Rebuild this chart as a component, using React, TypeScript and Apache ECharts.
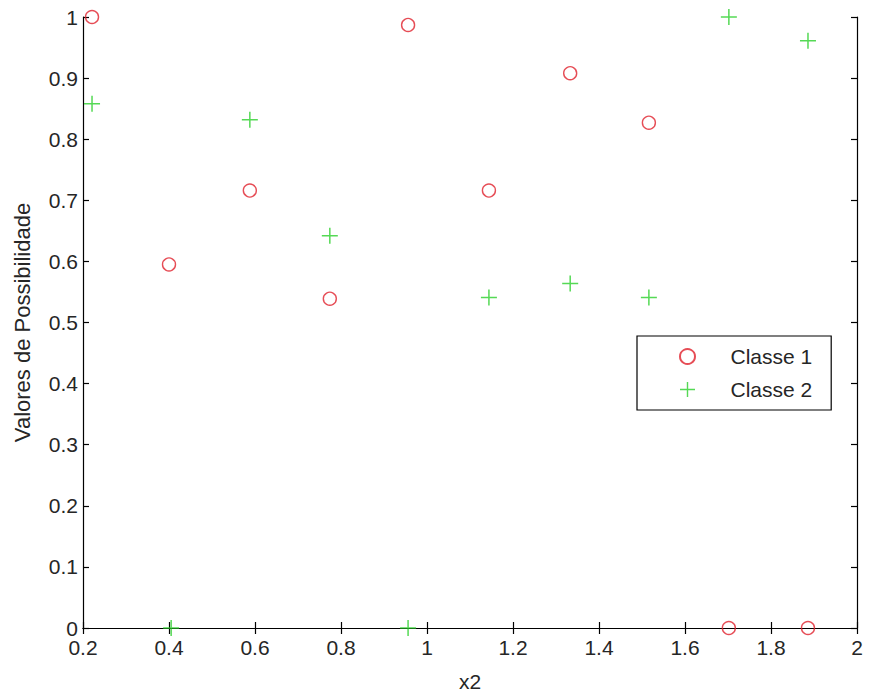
import React, { useEffect, useRef } from "react";
import * as echarts from "echarts";

const class1X = [0.221, 0.4, 0.588, 0.774, 0.956, 1.144, 1.333, 1.516, 1.702, 1.886];
const class1Y = [1.0, 0.595, 0.716, 0.539, 0.987, 0.716, 0.908, 0.827, 0, 0];
const class2X = [0.221, 0.405, 0.588, 0.774, 0.956, 1.144, 1.333, 1.516, 1.702, 1.886];
const class2Y = [0.858, 0, 0.832, 0.642, 0, 0.541, 0.564, 0.541, 1.0, 0.961];
const seriesNames = ["Classe 1", "Classe 2"];
const xName = "x2";
const yName = "Valores de Possibilidade";

const RED = "#e0202c";
const GREEN = "#2ad02a";
const PLUS = "path://M7.25,0H8.75V16H7.25Z M0,7.25H16V8.75H0Z";
const FONT = "Liberation Sans, Arial, sans-serif";
const TXT = "#262626";

export default function App() {
  const ref = useRef<HTMLDivElement>(null);
  useEffect(() => {
    const chart = echarts.init(ref.current!, null, { renderer: "svg" });
    const axisCommon = {
      axisLine: { lineStyle: { color: "#000", width: 1.2 } },
      axisTick: { inside: true, length: 6, lineStyle: { color: "#000", width: 1.2 } },
      splitLine: { show: false },
    };
    chart.setOption({
      animation: false,
      backgroundColor: "#fff",
      grid: { left: 83, right: 15, top: 17, bottom: 68 },
      legend: {
        left: 637,
        top: 336,
        orient: "vertical",
        padding: [10, 19, 10, 42],
        itemGap: 12,
        itemWidth: 16,
        itemHeight: 15,
        borderColor: "#000",
        borderWidth: 1.2,
        backgroundColor: "#fff",
        textStyle: { fontFamily: FONT, fontSize: 21, color: TXT, padding: [0, 0, 0, 30] },
        data: seriesNames,
      },
      xAxis: [
        {
          type: "value",
          min: 0.2,
          max: 2,
          interval: 0.2,
          name: xName,
          nameLocation: "middle",
          nameGap: 43,
          nameTextStyle: { fontFamily: FONT, fontSize: 21, color: TXT },
          axisLabel: { fontFamily: FONT, fontSize: 21, lineHeight: 16, color: TXT, margin: 11 },
          ...axisCommon,
        },
        {
          type: "value",
          position: "top",
          min: 0.2,
          max: 2,
          interval: 0.2,
          axisLabel: { show: false },
          ...axisCommon,
        },
      ],
      yAxis: [
        {
          type: "value",
          min: 0,
          max: 1,
          interval: 0.1,
          name: yName,
          nameLocation: "middle",
          nameGap: 50,
          nameTextStyle: { fontFamily: FONT, fontSize: 22, color: TXT },
          axisLabel: { fontFamily: FONT, fontSize: 21, lineHeight: 12, color: TXT, margin: 5 },
          ...axisCommon,
        },
        {
          type: "value",
          position: "right",
          min: 0,
          max: 1,
          interval: 0.1,
          axisLabel: { show: false },
          ...axisCommon,
        },
      ],
      series: [
        {
          name: seriesNames[0],
          type: "scatter",
          symbol: "circle",
          symbolSize: 13,
          clip: false,
          z: 1,
          itemStyle: { color: "rgba(255,255,255,0)", borderColor: RED, borderWidth: 1.4 },
          data: class1X.map((x, i) => [x, class1Y[i]]),
        },
        {
          name: seriesNames[1],
          type: "scatter",
          symbol: PLUS,
          symbolSize: 16,
          clip: false,
          z: 1,
          itemStyle: { color: GREEN },
          data: class2X.map((x, i) => [x, class2Y[i]]),
        },
      ],
    });
    return () => chart.dispose();
  }, []);
  return <div ref={ref} style={{ width: 872, height: 697, position: "absolute", left: 0, top: 0 }} />;
}
